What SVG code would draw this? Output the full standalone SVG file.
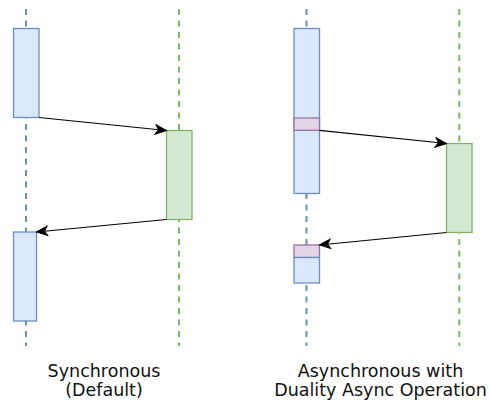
<svg xmlns="http://www.w3.org/2000/svg" width="489" height="400" viewBox="0 0 489 400">
  <style>
    .blue { fill: #dae8fc; stroke: #6c8ebf; stroke-width: 1.3; }
    .green { fill: #d5e8d4; stroke: #82b366; stroke-width: 1.3; }
    .purple { fill: #e1d5e7; stroke: #9673a6; stroke-width: 1.3; }
    .life { fill: none; stroke-width: 2; stroke-dasharray: 6 5.5; }
    .lb { stroke: #6c8ebf; }
    .lg { stroke: #82b366; }
    .msg { fill: none; stroke: #000; stroke-width: 1.2; marker-end: url(#arrow); }
    .lbl { font-family: "DejaVu Sans", Verdana, sans-serif; font-size: 17.5px; fill: #111; text-anchor: middle; }
  </style>
  <defs>
    <marker id="arrow" markerUnits="userSpaceOnUse" markerWidth="14" markerHeight="12" refX="12" refY="5.5" orient="auto">
      <path d="M1,0.8 L12,5.5 L1,10.2 L4,5.5 Z" fill="#000" stroke="#000" stroke-width="1"/>
    </marker>
  </defs>
  <rect width="489" height="400" fill="#fff"/>

  <g id="lifelines">
    <line class="life lb" x1="26" y1="9" x2="26" y2="346"/>
    <line class="life lg" x1="179" y1="9" x2="179" y2="346"/>
    <line class="life lb" x1="306.5" y1="9" x2="306.5" y2="346"/>
    <line class="life lg" x1="459.3" y1="9" x2="459.3" y2="346"/>
  </g>

  <g id="sync-caller-1"><rect class="blue" x="13.5" y="28.5" width="25.5" height="89"/></g>
  <g id="sync-callee"><rect class="green" x="166.5" y="130.5" width="25.5" height="89"/></g>
  <g id="sync-caller-2"><rect class="blue" x="13.5" y="232" width="23" height="89"/></g>

  <g id="async-caller-1">
    <rect class="blue" x="294" y="28.5" width="25.5" height="165"/>
    <rect class="purple" x="294" y="118" width="25.5" height="12.3"/>
  </g>
  <g id="async-callee"><rect class="green" x="446.5" y="143.5" width="25.5" height="89"/></g>
  <g id="async-caller-2">
    <rect class="purple" x="294" y="245" width="25.5" height="12.5"/>
    <rect class="blue" x="294" y="257.5" width="25.5" height="25.5"/>
  </g>

  <g id="connectors">
    <path class="msg" d="M39,117.5 L166.5,130.5"/>
    <path class="msg" d="M166.5,219.5 L36.5,232"/>
    <path class="msg" d="M319.5,130.3 L446.5,143.5"/>
    <path class="msg" d="M446.5,232.5 L319.5,245"/>
  </g>

  <g id="labels">
    <text class="lbl" x="104" y="376.5">Synchronous</text>
    <text class="lbl" x="104" y="396">(Default)</text>
    <text class="lbl" x="380.5" y="376.5">Asynchronous with</text>
    <text class="lbl" x="380.5" y="396">Duality Async Operation</text>
  </g>
</svg>
